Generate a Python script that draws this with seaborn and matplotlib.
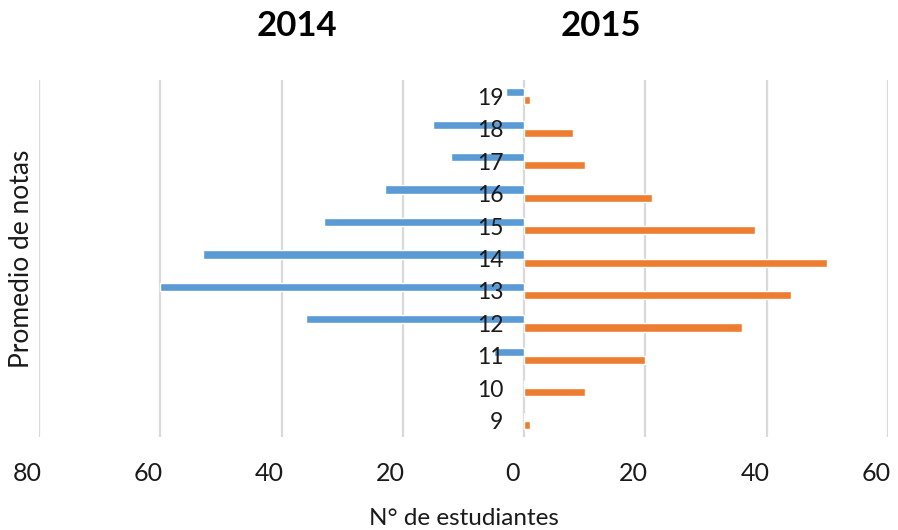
import pandas as pd
import matplotlib
matplotlib.use("Agg")
import matplotlib.pyplot as plt
from matplotlib.ticker import FuncFormatter, FixedLocator
from matplotlib.transforms import ScaledTranslation
import seaborn as sns

# Datos (de arriba hacia abajo)
notas = ["19", "18", "17", "16", "15", "14", "13", "12", "11", "10", "9"]
est_2014 = [3, 15, 12, 23, 33, 53, 60, 36, 5, 0, 0]
est_2015 = [1, 8, 10, 21, 38, 50, 44, 36, 20, 10, 1]
anios = ["2014", "2015"]
colores = ["#5B9BD5", "#ED7D31"]
ticks_x = [-80, -60, -40, -20, 0, 20, 40, 60]

# 2014 va hacia la izquierda (negativo)
df = pd.DataFrame({
    "nota": notas * 2,
    "anio": [anios[0]] * len(notas) + [anios[1]] * len(notas),
    "estudiantes": [-v for v in est_2014] + est_2015,
})

sns.set_theme(style="white")
plt.rcParams["font.family"] = ["Lato", "DejaVu Sans"]

fig = plt.figure(figsize=(8.98, 5.30), dpi=100)
ax = fig.add_axes([0.0434, 0.1755, 0.9455, 0.6735])

sns.barplot(data=df, y="nota", x="estudiantes", hue="anio", order=notas,
            hue_order=anios, palette=colores, orient="h", width=0.5,
            saturation=1, errorbar=None, legend=False, ax=ax)

ax.set_xlim(-80, 60)
ax.set_ylim(len(notas) - 0.5, -0.5)
ax.xaxis.set_major_locator(FixedLocator(ticks_x))
ax.xaxis.set_major_formatter(FuncFormatter(lambda v, p: f"{abs(v):.0f}"))

# lineas verticales de la grilla
ax.grid(axis="x", color="#d9d9d9", linewidth=1.6)
ax.grid(axis="y", visible=False)
ax.set_axisbelow(True)
ax.yaxis.set_zorder(5)

for s in ax.spines.values():
    s.set_visible(False)
# etiquetas de categoria en el eje cero
ax.spines["left"].set_position(("data", 0))

ax.tick_params(axis="x", length=0, pad=18, labelsize=18, labelcolor="#1a1a1a")
ax.tick_params(axis="y", length=0, pad=15, labelsize=16.5, labelcolor="#1a1a1a")

# las etiquetas del eje x quedan un poco a la izquierda de la grilla
desplaza = ScaledTranslation(-12 / 100, 0, fig.dpi_scale_trans)
for lab in ax.get_xticklabels():
    lab.set_transform(lab.get_transform() + desplaza)

ax.set_xlabel("N° de estudiantes", fontsize=17.5, color="#1a1a1a")
ax.set_ylabel("Promedio de notas", fontsize=19, color="#1a1a1a")
ax.xaxis.set_label_coords(0.5, -0.2)
ax.yaxis.set_label_coords(-0.006, 0.5)

fig.text(0.331, 0.951, "2014", ha="center", va="center", fontsize=25,
         fontweight="bold", color="black")
fig.text(0.669, 0.951, "2015", ha="center", va="center", fontsize=25,
         fontweight="bold", color="black")

fig.savefig("out.png", dpi=100)
